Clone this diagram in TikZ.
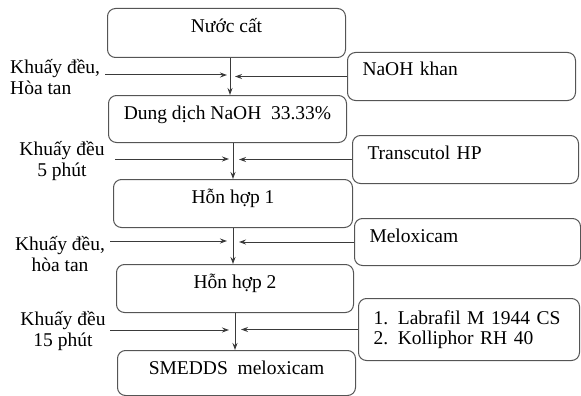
\documentclass[tikz,border=0pt]{standalone}
\usepackage{fontspec}
\setmainfont{Liberation Serif}
\usetikzlibrary{arrows.meta}
\usetikzlibrary{positioning}

\definecolor{linegray}{HTML}{555555}
\definecolor{arrowgray}{HTML}{3A3A3A}
\tikzset{
  mainbox/.style={draw=linegray, line width=1pt, rounded corners=8pt, inner sep=0pt,
    anchor=north west, text height=24pt},
  sidebox/.style={draw=linegray, line width=1pt, rounded corners=8pt, inner ysep=0pt,
    inner xsep=15pt, anchor=north west, align=left},
  steplabel/.style={align=center, inner sep=0pt},
  flow/.style={draw=arrowgray, line width=1pt, -{Stealth[length=7pt,width=5pt]}}
}

\begin{document}
\begin{tikzpicture}[x=1pt, y=-1pt, font=\fontsize{19.5}{20.5}\selectfont]
\useasboundingbox (0,0) rectangle (581,396);
% Main steps
\node[mainbox, minimum width=238pt, text depth=25pt] at (107,8)   (nuoc)   {Nước cất};
\node[mainbox, minimum width=238pt, text depth=23pt] at (108,95)  (naoh)   {Dung dịch NaOH\ \ 33.33\%};
\node[mainbox, minimum width=239pt, text depth=24pt] at (113,179) (hh1)    {Hỗn hợp 1};
\node[mainbox, minimum width=237pt, text depth=24pt] at (116,264) (hh2)    {Hỗn hợp 2};
\node[mainbox, minimum width=238pt, text depth=21pt] at (117,350) (smedds) {SMEDDS\ \ meloxicam};
% Added materials
\node[sidebox, text width=198pt, text height=23pt, text depth=25pt] at (347,52)  (khan)  {NaOH khan};
\node[sidebox, text width=196pt, text height=24pt, text depth=24pt] at (352,135) (trans) {Transcutol HP};
\node[sidebox, text width=196pt, text height=24pt, text depth=23pt] at (354,218) (melo)  {Meloxicam};
\node[sidebox, text width=191pt, minimum height=62pt] at (358,298) (labra) {1. Labrafil M 1944 CS\\2. Kolliphor RH 40};
% Junctions on the main line
\coordinate (j1) at (230,75);
\coordinate (j2) at (233,159);
\coordinate (j3) at (233,241);
\coordinate (j4) at (235,330);
% Free ends of the left arrows
\coordinate (s1) at (105,75);
\coordinate (s2) at (115,159);
\coordinate (s3) at (110,241);
\coordinate (s4) at (110,330);
% Conditions
\node[steplabel, align=left, anchor=west] at (10,77) (cond1) {Khuấy đều,\\Hòa tan};
\node[steplabel] at (62,161) (cond2) {Khuấy đều\\5 phút};
\node[steplabel] at (60,254) (cond3) {Khuấy đều,\\hòa tan};
\node[steplabel] at (63,331) (cond4) {Khuấy đều\\15 phút};
% Arrows
\draw[flow] (j1 |- nuoc.south) -- (j1 |- naoh.north);
\draw[flow] (j2 |- naoh.south) -- (j2 |- hh1.north);
\draw[flow] (j3 |- hh1.south) -- (j3 |- hh2.north);
\draw[flow] (j4 |- hh2.south) -- (j4 |- smedds.north);
\draw[flow] (s1) -- ([xshift=-3pt]j1);
\draw[flow] (s2) -- ([xshift=-4pt]j2);
\draw[flow] (s3) -- ([xshift=-6pt]j3);
\draw[flow] (s4) -- ([xshift=-6pt]j4);
\draw[flow] (khan.west) -- ([xshift=5pt]j1 |- khan.west);
\draw[flow] (trans.west) -- ([xshift=6pt]j2 |- trans.west);
\draw[flow] (melo.west) -- ([xshift=6pt]j3 |- melo.west);
\draw[flow] (labra.west) -- ([xshift=6pt]j4 |- labra.west);
\end{tikzpicture}
\end{document}
